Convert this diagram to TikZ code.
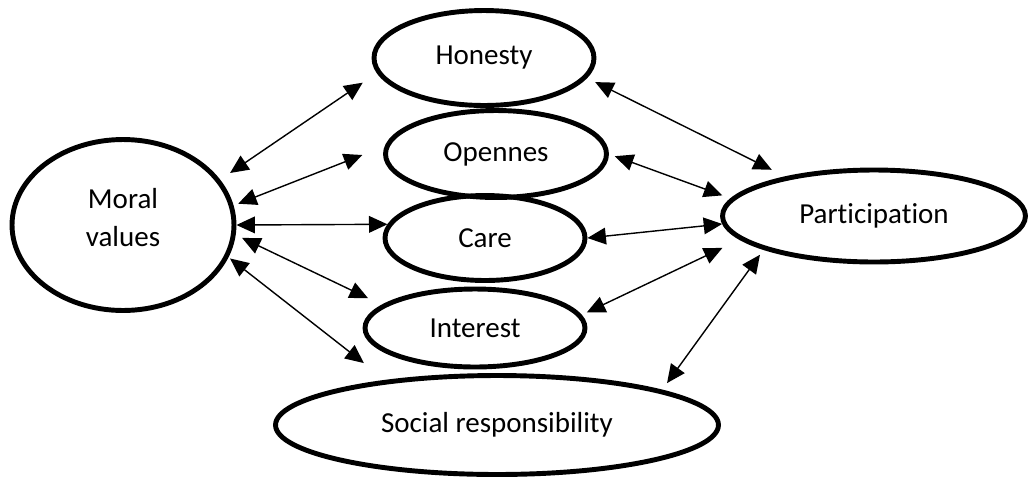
\documentclass[tikz,border=0pt]{standalone}
\usepackage{fontspec}
\setmainfont{Carlito}[Ligatures=CommonOff]
\usetikzlibrary{shapes.geometric,arrows.meta}

\begin{document}
\begin{tikzpicture}[x=0.02cm, y=-0.02cm]

\tikzstyle{oval}=[ellipse, draw, line width=2.8pt, inner sep=0pt, align=center, font=\fontsize{16.5}{21.6}\selectfont]
\tikzstyle{biarrow}=[{Triangle[length=10.5pt,width=9.5pt]}-{Triangle[length=10.5pt,width=9.5pt]}, line width=0.8pt]

\useasboundingbox (0,0) rectangle (1029,478);

\node (MV) [oval, minimum width=4.44cm, minimum height=3.42cm, text depth=9pt] at (123,225) {Moral\\values};
\node (Hon) [oval, minimum width=4.4cm, minimum height=1.9cm] at (484,58) {Honesty};
\node (Opn) [oval, minimum width=4.42cm, minimum height=1.74cm] at (496,154) {Opennes};
\node (Care) [oval, minimum width=4cm, minimum height=1.7cm] at (485,238) {Care};
\node (Int) [oval, minimum width=4.4cm, minimum height=1.56cm] at (475,328) {Interest};
\node (Soc) [oval, minimum width=8.86cm, minimum height=1.98cm] at (497,425) {Social responsibility};
\node (Part) [oval, minimum width=6.06cm, minimum height=1.84cm] at (874,216) {Participation};

% left side
\draw[biarrow, shorten <=6.8pt, shorten >=9.7pt] (MV.25) -- (Hon.188);
\draw[biarrow, shorten <=2.8pt, shorten >=13.7pt] (MV.10) -- (Opn.176);
\draw[biarrow] (MV.0) -- (Care.172);
\draw[biarrow, shorten <=4pt, shorten >=8.7pt] (MV.355.5) -- (Int.166);
\draw[biarrow, shorten <=1.1pt, shorten >=15.6pt] (MV.343) -- (Soc.158);

% right side
\draw[biarrow, shorten <=5.2pt, shorten >=8.5pt] (Hon.349) -- (Part.156);
\draw[biarrow, shorten <=3.6pt, shorten >=5pt] (Opn.0.6) -- (Part.173);
\draw[biarrow] (Care.0.5) -- (Part.183);
\draw[biarrow, shorten <=3.2pt, shorten >=10.9pt] (Int.7) -- (Part.190);
\draw[biarrow, shorten <=4.8pt, shorten >=3.5pt] (Soc.12) -- (Part.197.5);
\end{tikzpicture}
\end{document}
